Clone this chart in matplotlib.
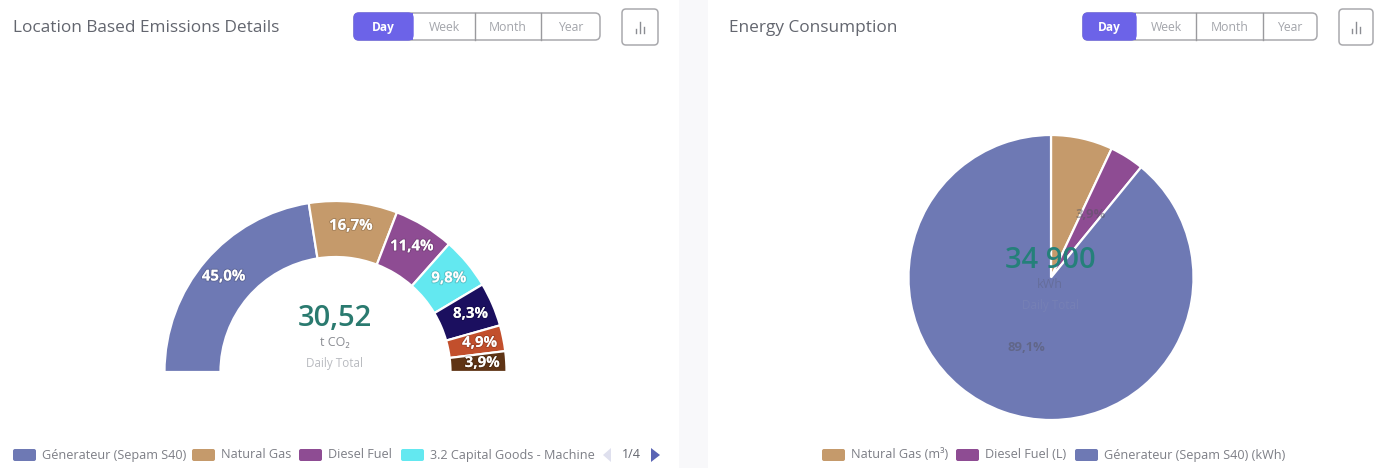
import matplotlib
matplotlib.use("Agg")
import matplotlib.pyplot as plt
from matplotlib.patches import FancyBboxPatch, Rectangle, Polygon
import matplotlib.patheffects as pe

W, H = 1397, 468

# left chart data
emission_names = ["Génerateur (Sepam S40)", "Natural Gas", "Diesel Fuel", "3.2 Capital Goods - Machine"]
emission_values = [45.0, 16.7, 11.4, 9.8, 8.3, 4.9, 3.9]
emission_colors = ["#6e79b4", "#c59a6b", "#8e4c93", "#63e8f0", "#1b0f5f", "#c24f2c", "#5f3415"]

# right chart data
energy_names = ["Natural Gas (m³)", "Diesel Fuel (L)", "Génerateur (Sepam S40) (kWh)"]
energy_values = [7.0, 3.9, 89.1]
energy_colors = ["#c59a6b", "#8e4c93", "#6e79b4"]

periods = ["Day", "Week", "Month", "Year"]
FONT = "Open Sans"
plt.rcParams["font.family"] = FONT


# axes placed with pixel coords from the top left
def pie_axes(fig, cx, cy, r):
    ax = fig.add_axes([(cx - r) / W, (H - cy - r) / H, 2 * r / W, 2 * r / H])
    return ax


def round_box(ax, x0, y0, x1, y1, rad=4, **kw):
    box = FancyBboxPatch((x0 + rad, y0 + rad), x1 - x0 - 2 * rad, y1 - y0 - 2 * rad,
                         boxstyle=f"round,pad={rad},rounding_size={rad}", **kw)
    ax.add_patch(box)


def buttons(ax, edges, title, title_x, icon_x0, icon_x1):
    ax.text(title_x, 28, title, fontsize=12.4, color="#63666f", va="center", ha="left")
    round_box(ax, edges[0], 13, edges[-1], 40, rad=5, fc="white", ec="#a9a9ad", lw=1.1)
    round_box(ax, edges[0], 13, edges[1], 40, rad=5, fc="#6c63e8", ec="#6c63e8", lw=1)
    ax.add_patch(Rectangle((edges[1] - 8, 13), 8, 27, fc="#6c63e8", ec="none"))
    for i, name in enumerate(periods):
        mid = (edges[i] + edges[i + 1]) / 2
        if i == 0:
            ax.text(mid, 27.5, name, fontsize=8.6, color="white", weight="bold", ha="center", va="center")
        else:
            ax.text(mid, 27.5, name, fontsize=8.8, color="#a3a5ab", ha="center", va="center")
            if i > 1:
                ax.plot([edges[i], edges[i]], [13, 40], color="#9a9a9e", lw=1)
    round_box(ax, icon_x0, 9, icon_x1, 45, rad=4, fc="white", ec="#a9a9ad", lw=1.1)
    mid = (icon_x0 + icon_x1) / 2
    for dx, top in zip([-4, 0, 4], [29, 22, 27]):
        ax.plot([mid + dx, mid + dx], [top, 33], color="#8b8d93", lw=1)


def legend(ax, names, colors, swatch_x, y):
    for name, color, x in zip(names, colors, swatch_x):
        round_box(ax, x, y - 6, x + 23, y + 6, rad=2, fc=color, ec="none")
        t = ax.text(x + 29, y, name, fontsize=9.05, color="#7d7f86", ha="left", va="center")
        t.set_clip_path(Rectangle((0, 0), 596, H, transform=ax.transData))


fig = plt.figure(figsize=(W / 100, H / 100), dpi=100, facecolor="#f8f8fa")

bg = fig.add_axes([0, 0, 1, 1])
bg.set_xlim(0, W)
bg.set_ylim(H, 0)
bg.axis("off")
bg.add_patch(Rectangle((0, 0), 679, H, fc="white", ec="none"))
bg.add_patch(Rectangle((708, 0), W - 708, H, fc="white", ec="none"))

# half donut, the hidden slice takes the lower half
ax1 = pie_axes(fig, 335.5, 372, 171)
wedges, _, pcts = ax1.pie(
    emission_values + [sum(emission_values)],
    colors=emission_colors + ["none"],
    startangle=180,
    counterclock=False,
    radius=1,
    autopct=lambda p: "" if p >= 49.9 else f"{p * 2:.1f}%".replace(".", ","),
    pctdistance=0.86,
    wedgeprops={"width": 56 / 171, "edgecolor": "white", "linewidth": 1.6},
    textprops={"color": "white", "fontsize": 10.8, "weight": "bold"},
)
wedges[-1].set_visible(False)
for t in pcts:
    t.set_path_effects([pe.withStroke(linewidth=1.5, foreground="#00000028")])
ax1.set_xlim(-1, 1)
ax1.set_ylim(-1, 1)

# full pie
ax2 = pie_axes(fig, 1051, 277.5, 142.5)
wedges2, _, pcts2 = ax2.pie(
    energy_values,
    colors=energy_colors,
    startangle=90,
    counterclock=False,
    radius=1,
    autopct=lambda p: "" if p < 3.5 or 6 < p < 8 else f"{p:.1f}%".replace(".", ","),
    pctdistance=0.52,
    wedgeprops={"edgecolor": "white", "linewidth": 1.6},
    textprops={"color": "#55555f", "alpha": 0.5, "fontsize": 9.4, "weight": "bold"},
)
ax2.set_xlim(-1, 1)
ax2.set_ylim(-1, 1)

# everything else sits on top of the pies
ui = fig.add_axes([0, 0, 1, 1])
ui.set_xlim(0, W)
ui.set_ylim(H, 0)
ui.axis("off")
ui.patch.set_alpha(0)

buttons(ui, [354, 413, 475, 541, 600], "Location Based Emissions Details", 13, 622, 658)
buttons(ui, [1083, 1136, 1196, 1263, 1317], "Energy Consumption", 729, 1339, 1373)

ui.text(335, 318, "30,52", fontsize=21, color="#2a7a6f", weight="semibold", ha="center", va="center")
ui.text(335, 343, "t CO₂", fontsize=9, color="#8a8c92", ha="center", va="center")
ui.text(335, 363, "Daily Total", fontsize=8.4, color="#b9bbc0", ha="center", va="center")

ui.text(1050, 260, "34 900", fontsize=21, color="#25807a", weight="semibold", ha="center", va="center")
ui.text(1050, 285, "kWh", fontsize=9, color="#666e9c", ha="center", va="center")
ui.text(1050, 306, "Daily Total", fontsize=8.4, color="#7680b5", ha="center", va="center")

legend(ui, emission_names, emission_colors, [13, 192, 299, 401], 455)
legend(ui, energy_names, energy_colors, [822, 956, 1075], 455)

ui.text(631.5, 454.5, "1/4", fontsize=9, color="#63666f", ha="center", va="center")
ui.add_patch(Polygon([[611, 448], [611, 462], [603, 455]], fc="#dfe0ee", ec="none"))
ui.add_patch(Polygon([[651, 448], [651, 462], [660, 455]], fc="#5a64b4", ec="none"))

fig.savefig("out.png", dpi=100, facecolor=fig.get_facecolor())
